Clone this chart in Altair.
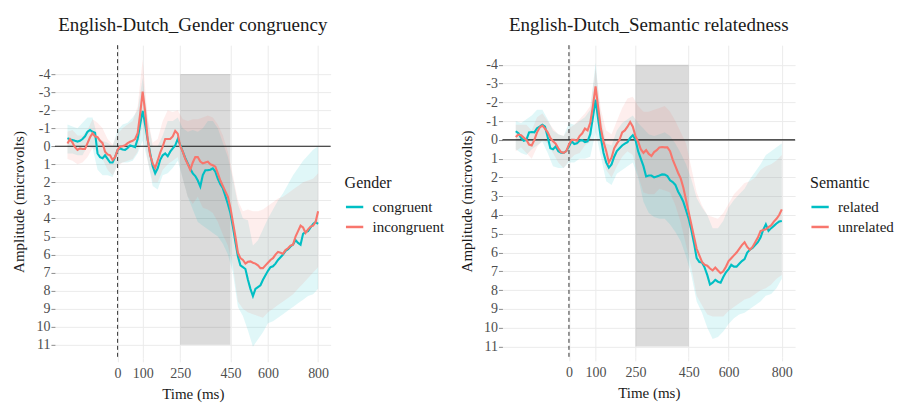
import altair as alt
import pandas as pd

# ---------------- data ----------------
TIME = list(range(-200, 801, 10))
RIB_TIME = list(range(-200, 801, 20))

gender_levels = ["congruent", "incongruent"]
semantic_levels = ["related", "unrelated"]

congruent = [-0.45, -0.38, -0.35, -0.3, -0.26, -0.3, -0.4, -0.55, -0.8, -0.9,
             -0.8, -0.75, 0.4, 0.6, 0.66, 0.5, 0.7, 0.9, 0.9, 0.6,
             0.2, 0.12, 0.18, 0.2, 0.1, -0.05, 0.0, 0.05, -0.4, -1.2,
             -1.96, -1.2, -0.35, 0.4, 1.1, 1.5, 1.22, 0.75, 0.5, 0.4,
             0.55, 0.3, 0.12, -0.05, -0.4, -0.07, 0.3, 0.65, 0.95, 1.25,
             1.5, 1.65, 1.9, 2.23, 1.6, 1.33, 1.32, 1.3, 1.22, 1.4,
             1.8, 2.1, 2.33, 2.75, 3.2, 3.7, 4.45, 5.3, 6.1, 6.6,
             6.7, 6.8, 7.4, 7.9, 8.3, 7.9, 7.8, 7.7, 7.4, 7.15,
             6.9, 6.7, 6.65, 6.5, 6.3, 6.15, 6.0, 5.8, 5.7, 5.55,
             5.45, 5.2, 5.35, 5.45, 4.85, 4.75, 4.7, 4.5, 4.3, 4.2, 4.3]
incongruent = [-0.15, -0.39, -0.2, 0.05, 0.2, 0.12, 0.15, 0.15, -0.17, -0.5,
               -0.72, -0.55, -0.5, -0.3, -0.17, 0.3, 0.45, 0.5, 0.76, 0.6,
               0.2, 0.03, 0.0, -0.05, -0.17, -0.25, -0.3, -0.4, -0.72, -1.8,
               -3.03, -1.9, -0.4, 0.5, 0.95, 1.2, 0.8, 0.35, 0.02, -0.4,
               -0.4, -0.4, -0.54, -0.85, -0.7, 0.0, 0.3, 0.7, 1.0, 1.31,
               0.9, 0.6, 0.6, 0.85, 0.95, 0.9, 0.85, 1.0, 1.05, 1.13,
               1.5, 1.9, 2.2, 2.5, 2.8, 3.4, 4.2, 5.0, 5.9, 6.2,
               6.3, 6.5, 6.4, 6.38, 6.45, 6.5, 6.6, 6.75, 6.75, 6.6,
               6.45, 6.3, 6.2, 6.0, 5.85, 5.9, 5.95, 5.75, 5.65, 5.5,
               5.45, 5.0, 4.7, 4.4, 4.5, 4.8, 4.6, 4.45, 4.4, 4.2, 3.6]
related = [-0.46, -0.35, -0.1, 0.05, 0.0, -0.4, -0.42, -0.4, -0.62, -0.7,
           -0.8, -0.7, -0.15, 0.45, 0.5, 0.35, 0.6, 0.68, 0.69, 0.6,
           0.35, 0.07, 0.22, 0.18, 0.05, 0.02, 0.12, 0.08, -0.3, -1.2,
           -2.14, -1.08, -0.1, 0.7, 1.2, 1.48, 1.31, 0.9, 0.6, 0.45,
           0.3, 0.2, 0.12, -0.1, -0.25, 0.0, 0.6, 1.0, 1.4, 1.95,
           1.9, 1.9, 2.0, 1.95, 1.9, 1.84, 1.85, 1.93, 2.15, 2.25,
           2.4, 2.75, 3.0, 3.3, 3.75, 4.2, 4.8, 5.5, 6.3, 6.5,
           6.53, 6.8, 7.2, 7.7, 7.6, 7.45, 7.55, 7.6, 7.3, 7.05,
           6.88, 6.65, 6.75, 6.75, 6.6, 6.45, 6.35, 6.0, 5.85, 5.75,
           5.6, 5.45, 5.2, 4.8, 4.5, 4.85, 4.7, 4.58, 4.45, 4.35, 4.32]
unrelated = [-0.15, -0.28, -0.25, -0.12, 0.0, 0.25, 0.3, 0.0, -0.4, -0.66,
             -0.76, -0.6, -0.4, -0.1, 0.07, 0.2, 0.45, 0.65, 0.69, 0.6,
             0.25, 0.0, 0.0, 0.05, -0.2, -0.35, -0.6, -0.5, -0.9, -1.8,
             -2.85, -1.7, -0.6, 0.1, 0.6, 1.2, 0.95, 0.45, 0.2, 0.0,
             -0.4, -0.5, -0.7, -0.95, -0.7, -0.2, 0.1, 0.5, 0.69, 0.55,
             0.75, 0.86, 0.65, 0.55, 0.4, 0.38, 0.4, 0.4, 0.6, 1.05,
             1.4, 1.75, 2.05, 2.55, 3.2, 3.85, 4.5, 5.15, 5.8, 6.15,
             6.5, 6.65, 6.7, 6.85, 6.95, 6.8, 6.95, 7.1, 7.0, 6.75,
             6.45, 6.3, 6.15, 6.0, 5.8, 5.6, 5.45, 5.7, 5.85, 5.7,
             5.45, 5.2, 4.85, 4.8, 4.76, 4.65, 4.55, 4.35, 4.2, 4.0, 3.7]

# confidence ribbons (sampled every 20 ms)
congruent_lo = [-1.2, -1.1, -1.0, -1.3, -1.6, -1.6, -0.5, -0.3, -0.2, 0.0,
                -0.9, -1.2, -1.3, -1.6, -2.0, -3.8, -1.5, 0.0, 0.0, -0.6,
                -1.4, -1.4, -1.6, -1.0, -0.8, -0.9, -0.8, -1.0, -1.4, -1.4,
                -1.0, -0.2, 0.6, 1.8, 3.2, 4.0, 4.1, 5.5, 5.2, 4.6,
                4.0, 3.5, 3.0, 2.6, 2.1, 1.6, 1.2, 0.8, 0.5, 0.2, 0.0]
congruent_hi = [0.4, 0.4, 0.5, 0.5, 0.0, 0.1, 1.3, 1.6, 1.6, 1.7,
                1.0, 0.9, 0.9, 0.8, 0.4, -0.3, 0.8, 2.2, 2.4, 1.6,
                1.5, 1.2, 0.8, 1.8, 2.8, 3.5, 4.2, 4.4, 4.6, 4.8,
                5.0, 5.4, 6.0, 7.0, 8.9, 9.4, 10.2, 11.1, 10.7, 10.3,
                9.8, 9.7, 9.5, 9.3, 9.1, 8.9, 8.7, 8.5, 8.3, 8.2, 7.9]
incongruent_lo = [-0.8, -0.9, -0.6, -0.6, -0.9, -1.5, -1.3, -1.0, -0.4, -0.1,
                  -0.7, -1.0, -1.2, -1.4, -2.2, -4.8, -1.6, -0.2, -0.4, -1.4,
                  -2.0, -1.9, -2.0, -1.5, -1.4, -1.5, -1.5, -1.6, -1.7, -1.6,
                  -1.2, -0.6, 0.3, 1.6, 3.0, 3.6, 3.5, 3.6, 3.6, 3.5,
                  3.3, 3.1, 2.9, 2.8, 2.6, 2.4, 2.2, 2.0, 1.9, 1.8, 1.5]
incongruent_hi = [0.7, 0.8, 1.0, 0.9, 0.6, 0.1, 0.3, 0.7, 1.3, 1.6,
                  1.1, 0.9, 0.8, 0.7, 0.3, -1.3, 0.8, 2.0, 2.0, 1.3,
                  1.0, 0.8, 0.6, 1.8, 2.8, 3.2, 2.8, 3.4, 3.5, 3.7,
                  4.2, 4.9, 5.5, 6.6, 8.6, 9.0, 9.2, 9.3, 9.4, 9.5,
                  9.2, 9.0, 8.8, 8.6, 8.4, 8.2, 7.9, 7.6, 7.3, 7.0, 6.7]
related_lo = [-1.0, -0.9, -1.1, -1.3, -1.6, -1.6, -1.1, -0.5, -0.3, -0.2,
              -0.9, -0.8, -1.0, -1.2, -1.6, -4.1, -1.2, 0.2, 0.3, -0.5,
              -0.9, -1.1, -1.3, -0.9, -0.6, -0.3, -0.2, -0.3, -0.4, -0.2,
              0.2, 0.7, 1.3, 2.1, 3.1, 3.6, 4.0, 4.7, 4.7, 4.3,
              3.6, 3.2, 2.9, 2.6, 2.1, 1.7, 1.3, 0.8, 0.6, 0.4, 0.2]
related_hi = [0.5, 0.7, 0.8, 0.5, 0.3, 0.1, 0.7, 1.4, 1.5, 1.5,
              1.2, 1.2, 1.0, 1.0, 0.9, -0.4, 0.9, 2.2, 2.4, 1.8,
              1.6, 1.4, 1.2, 2.0, 3.3, 3.9, 4.1, 4.2, 4.2, 4.5,
              4.9, 5.4, 6.2, 7.2, 8.6, 9.2, 10.0, 10.6, 10.5, 10.2,
              9.8, 9.5, 9.3, 9.2, 9.0, 8.8, 8.6, 8.3, 8.2, 7.9, 7.4]
unrelated_lo = [-0.8, -0.8, -0.8, -0.5, -1.2, -1.4, -1.0, -0.6, -0.3, -0.2,
                -0.6, -0.8, -1.1, -1.4, -1.8, -3.8, -1.6, -0.5, -0.3, -1.0,
                -1.7, -2.2, -2.3, -1.8, -1.5, -1.5, -1.6, -1.7, -1.8, -1.5,
                -1.0, -0.4, 0.2, 1.5, 2.8, 3.5, 4.0, 4.1, 4.2, 3.9,
                3.4, 2.9, 2.6, 2.3, 2.2, 2.0, 1.6, 1.4, 1.3, 1.1, 0.8]
unrelated_hi = [0.6, 0.4, 0.7, 1.0, 0.4, 0.0, 0.2, 0.7, 1.2, 1.5,
                1.1, 0.8, 0.7, 0.3, 0.1, -1.8, 0.4, 1.6, 2.0, 1.4,
                0.9, 0.6, 0.8, 1.9, 2.8, 2.9, 2.9, 2.6, 2.7, 2.8,
                3.5, 4.4, 5.6, 6.8, 8.3, 8.8, 9.3, 9.4, 9.4, 9.4,
                9.1, 8.9, 8.7, 8.5, 8.4, 8.2, 8.0, 7.9, 7.7, 7.4, 7.2]

x_ticks = [0, 100, 250, 450, 600, 800]
y_ticks = list(range(-4, 12))
window_start, window_end = [250], [450]
window_lo, window_hi = [-4], [11]
onset_time = [0]
baseline_amp = [0]

COLORS = ["#00BFC4", "#F8766D"]
FONT = "Liberation Serif"


def panel(title, field, levels, a, b, a_lo, a_hi, b_lo, b_hi,
          ydomain, width, height, legend_x, legend_y):
    n = len(TIME)
    m = len(RIB_TIME)
    lines = pd.DataFrame({
        "time": TIME + TIME,
        "amp": a + b,
        field: [levels[0]] * n + [levels[1]] * n,
    })
    ribs = pd.DataFrame({
        "time": RIB_TIME + RIB_TIME,
        "lo": a_lo + b_lo,
        "hi": a_hi + b_hi,
        "grp": [levels[0]] * m + [levels[1]] * m,
        "col": [COLORS[0]] * m + [COLORS[1]] * m,
    })
    win = pd.DataFrame({"t0": window_start, "t1": window_end,
                        "v0": window_lo, "v1": window_hi,
                        "onset": onset_time, "base": baseline_amp})

    xscale = alt.Scale(domain=[-250, 850], nice=False, zero=False)
    yscale = alt.Scale(domain=ydomain, reverse=True, nice=False, zero=False)
    xaxis = alt.Axis(values=x_ticks, title="Time (ms)", labelExpr="'' + datum.value",
                     tickSize=4, labelPadding=5, titlePadding=6, labelOverlap=False)
    yaxis = alt.Axis(values=y_ticks, title="Amplitude (microvolts)",
                     labelExpr="'' + datum.value", tickSize=4, labelPadding=1,
                     tickColor="#8C8C8C", titlePadding=9, labelOverlap=False,
                     labelBound=False, labelFlush=False)

    rect = alt.Chart(win).mark_rect(color="#000000", opacity=0.14).encode(
        x=alt.X("t0:Q", scale=xscale, axis=xaxis),
        x2="t1:Q",
        y=alt.Y("v0:Q", scale=yscale, axis=yaxis),
        y2="v1:Q",
    )
    band = alt.Chart(ribs).mark_area(opacity=0.12).encode(
        x=alt.X("time:Q", scale=xscale, axis=xaxis),
        y=alt.Y("lo:Q", scale=yscale, axis=yaxis),
        y2="hi:Q",
        fill=alt.Fill("col:N", scale=None),
        detail="grp:N",
    )
    zero_h = alt.Chart(win).mark_rule(color="#1A1A1A", strokeWidth=1.1).encode(
        y=alt.Y("base:Q", scale=yscale, axis=yaxis)
    )
    zero_v = alt.Chart(win).mark_rule(color="#333333", strokeWidth=1, strokeDash=[4, 3]).encode(
        x=alt.X("onset:Q", scale=xscale, axis=xaxis)
    )
    line = alt.Chart(lines).mark_line(strokeWidth=2.1).encode(
        x=alt.X("time:Q", scale=xscale, axis=xaxis),
        y=alt.Y("amp:Q", scale=yscale, axis=yaxis),
        color=alt.Color(f"{field}:N", scale=alt.Scale(domain=levels, range=COLORS),
                        legend=alt.Legend(title=field, orient="none",
                                          legendX=legend_x, legendY=legend_y,
                                          symbolType="stroke", symbolStrokeWidth=2.5,
                                          symbolSize=300, labelFontSize=15,
                                          titleFontSize=16, titlePadding=6,
                                          rowPadding=2, labelOffset=8,
                                          labelFont=FONT, titleFont=FONT,
                                          titleFontWeight="normal",
                                          labelColor="#1A1A1A", titleColor="#1A1A1A")),
    )
    return alt.layer(rect, band, zero_h, zero_v, line).properties(
        width=width, height=height,
        title=alt.TitleParams(title, anchor="middle", fontSize=19, font=FONT,
                              fontWeight="normal", color="#1A1A1A", offset=10),
    )


left = panel("English-Dutch_Gender congruency", "Gender", gender_levels,
             congruent, incongruent, congruent_lo, congruent_hi,
             incongruent_lo, incongruent_hi, [-5.6, 11.72], 276, 313, 290, 130)
right = panel("English-Dutch_Semantic relatedness", "Semantic", semantic_levels,
              related, unrelated, related_lo, related_hi,
              unrelated_lo, unrelated_hi, [-5.04, 11.55], 293, 312, 308, 130)

chart = alt.hconcat(left, right, spacing=15).resolve_scale(
    color="independent", x="independent", y="independent"
).configure_view(stroke=None).configure_axis(
    labelFont=FONT, titleFont=FONT, labelFontSize=14, titleFontSize=15,
    labelColor="#4D4D4D", titleColor="#1A1A1A", titleFontWeight="normal",
    gridColor="#EBEBEB", gridWidth=1, domain=False, tickColor="#EBEBEB",
    labelOverlap=False,
).configure_legend(padding=0).properties(
    padding={"left": 12, "top": 15, "right": 5, "bottom": 2}, background="white"
)

chart.save("out.html", embed_options={"renderer": "svg", "actions": False})
